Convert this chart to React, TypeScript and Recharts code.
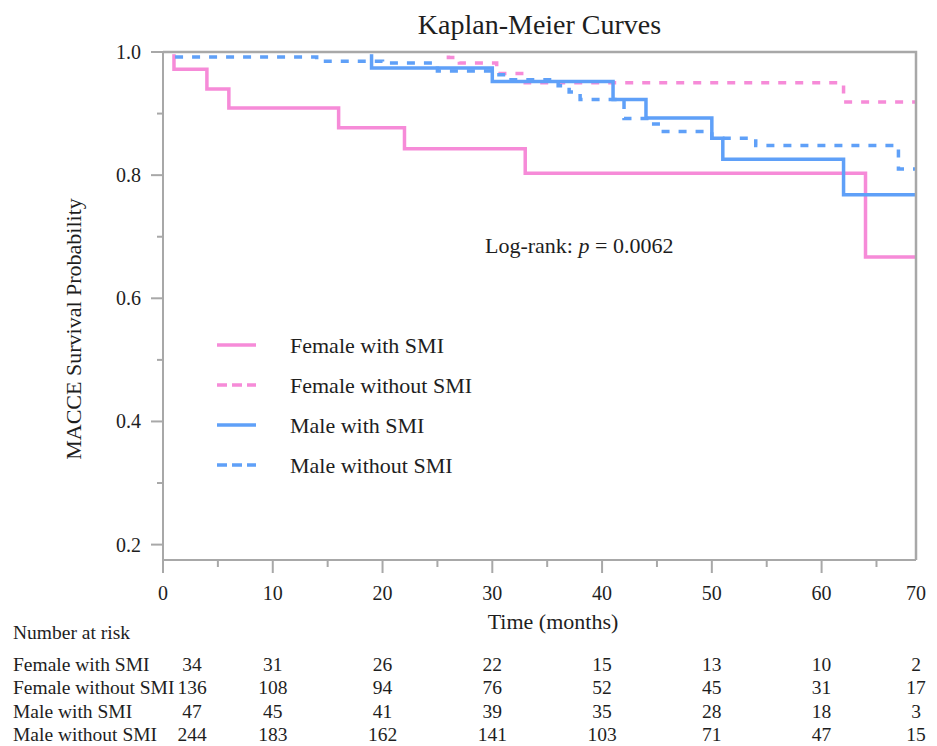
import React from 'react'
import { LineChart, Line, XAxis, YAxis } from 'recharts'

// survival steps (time in months, survival probability)
const femaleSmiT = [0, 1, 4, 6, 16, 22, 33, 64, 68.6]
const femaleSmiS = [1, 0.972, 0.94, 0.909, 0.877, 0.843, 0.803, 0.667, 0.667]

const femaleNoSmiT = [0, 26, 27, 30.4, 33, 62, 68.6]
const femaleNoSmiS = [1, 0.991, 0.982, 0.965, 0.95, 0.919, 0.919]

const maleSmiT = [0, 19, 30, 41, 44, 50, 51, 62, 68.6]
const maleSmiS = [1, 0.974, 0.952, 0.923, 0.893, 0.86, 0.826, 0.768, 0.768]

const maleNoSmiT = [0, 1, 14, 20, 25, 30, 31.3, 36, 37, 38, 42, 44.4, 45.3, 50, 54, 67, 68.6]
const maleNoSmiS = [1, 0.992, 0.985, 0.982, 0.969, 0.963, 0.955, 0.945, 0.935, 0.923, 0.892, 0.883, 0.871, 0.86, 0.848, 0.81, 0.81]

const seriesNames = ['Female with SMI', 'Female without SMI', 'Male with SMI', 'Male without SMI']

// number at risk
const riskTimes = [0, 10, 20, 30, 40, 50, 60, 70]
const riskFemaleSmi = [34, 31, 26, 22, 15, 13, 10, 2]
const riskFemaleNoSmi = [136, 108, 94, 76, 52, 45, 31, 17]
const riskMaleSmi = [47, 45, 41, 39, 35, 28, 18, 3]
const riskMaleNoSmi = [244, 183, 162, 141, 103, 71, 47, 15]

const xTicks = [0, 5, 10, 15, 20, 25, 30, 35, 40, 45, 50, 55, 60, 65, 68.6]
const yTicks = [0.2, 0.3, 0.4, 0.5, 0.6, 0.7, 0.8, 0.9, 1.0]

const X_MAX = 68.6
const Y_MIN = 0.175

const PINK = '#f68bd8'
const BLUE = '#5fa0f8'
const GRAY = '#a8a8a8'
const TEXT = '#1e1e1e'
const FONT = '"Liberation Serif", "Times New Roman", serif'

const W = 937
const H = 746
const PLOT_LEFT = 163
const PLOT_RIGHT = 916
const PLOT_TOP = 52
const PLOT_BOTTOM = 560

const toPoints = (t: number[], s: number[]) => t.map((v, i) => ({ t: v, s: s[i] }))

const series = [
  { name: seriesNames[0], data: toPoints(femaleSmiT, femaleSmiS), color: PINK, dash: undefined },
  { name: seriesNames[1], data: toPoints(femaleNoSmiT, femaleNoSmiS), color: PINK, dash: '8 9' },
  { name: seriesNames[2], data: toPoints(maleSmiT, maleSmiS), color: BLUE, dash: undefined },
  { name: seriesNames[3], data: toPoints(maleNoSmiT, maleNoSmiS), color: BLUE, dash: '8 9' }
]

const riskRows = [riskFemaleSmi, riskFemaleNoSmi, riskMaleSmi, riskMaleNoSmi]

const XTick = ({ x, y, payload }: any) => {
  const v = payload.value
  const isEnd = v === X_MAX
  const major = !isEnd && v % 10 === 0
  const label = isEnd ? '70' : major ? String(v) : ''
  return (
    <g>
      {!isEnd && (
        <line x1={x} x2={x} y1={y} y2={y + (major ? 13 : 7)} stroke={GRAY} strokeWidth={2} />
      )}
      {label && (
        <text x={x} y={y + 33} textAnchor="middle" fontSize={20} fontFamily={FONT} fill={TEXT} dominantBaseline="central">
          {label}
        </text>
      )}
    </g>
  )
}

const YTick = ({ x, y, payload }: any) => {
  const v = payload.value
  const major = Math.round(v * 10) % 2 === 0
  return (
    <g>
      <line x1={x - (major ? 12 : 6)} x2={x} y1={y} y2={y} stroke={GRAY} strokeWidth={2} />
      {major && (
        <text x={x - 22} y={y} textAnchor="end" fontSize={20} fontFamily={FONT} fill={TEXT} dominantBaseline="central">
          {v.toFixed(1)}
        </text>
      )}
    </g>
  )
}

const riskX = (t: number, col: number) => {
  const tt = Math.min(t, X_MAX)
  const px = PLOT_LEFT + (tt / X_MAX) * (PLOT_RIGHT - PLOT_LEFT)
  return col === 0 ? px + 29 : px
}

export default function App() {
  return (
    <div style={{ position: 'absolute', left: 0, top: 0, width: W, height: H, background: '#fff' }}>
      <LineChart
        width={W}
        height={H}
        margin={{ top: PLOT_TOP, right: W - PLOT_RIGHT, left: PLOT_LEFT - 60, bottom: H - PLOT_BOTTOM - 40 }}
      >
        <XAxis
          dataKey="t"
          type="number"
          domain={[0, X_MAX]}
          ticks={xTicks}
          interval={0}
          height={40}
          tickSize={0}
          tickMargin={0}
          tickLine={false}
          axisLine={{ stroke: GRAY, strokeWidth: 2 }}
          tick={<XTick />}
        />
        <YAxis
          type="number"
          domain={[Y_MIN, 1]}
          allowDataOverflow
          ticks={yTicks}
          interval={0}
          width={60}
          tickSize={0}
          tickMargin={0}
          tickLine={false}
          axisLine={{ stroke: GRAY, strokeWidth: 2 }}
          tick={<YTick />}
        />
        {series.map((s) => (
          <Line
            key={s.name}
            data={s.data}
            dataKey="s"
            name={s.name}
            type="stepAfter"
            stroke={s.color}
            strokeWidth={3.5}
            strokeDasharray={s.dash}
            dot={false}
            activeDot={false}
            isAnimationActive={false}
          />
        ))}
      </LineChart>

      <svg
        width={W}
        height={H}
        style={{ position: 'absolute', left: 0, top: 0, pointerEvents: 'none' }}
        fontFamily={FONT}
        fill={TEXT}
      >
        {/* top and right frame, drawn over the curves like in the original */}
        <rect x={PLOT_LEFT + 1} y={PLOT_TOP} width={PLOT_RIGHT - PLOT_LEFT - 2} height={2.2} fill="#fff" />
        <polyline
          points={`${PLOT_LEFT},${PLOT_TOP} ${PLOT_RIGHT},${PLOT_TOP} ${PLOT_RIGHT},${PLOT_BOTTOM}`}
          fill="none"
          stroke={GRAY}
          strokeWidth={2.5}
        />
        <text x={(PLOT_LEFT + PLOT_RIGHT) / 2} y={24} textAnchor="middle" dominantBaseline="central" fontSize={28}>
          Kaplan-Meier Curves
        </text>
        <text
          x={73}
          y={329}
          textAnchor="middle"
          dominantBaseline="central"
          fontSize={22}
          transform="rotate(-90 73 329)"
        >
          MACCE Survival Probability
        </text>
        <text x={553} y={621} textAnchor="middle" dominantBaseline="central" fontSize={22}>
          Time (months)
        </text>
        <text x={485} y={245} dominantBaseline="central" fontSize={22}>
          Log-rank: <tspan fontStyle="italic">p</tspan> = 0.0062
        </text>

        {series.map((s, i) => {
          const cy = 345 + i * 40
          return (
            <g key={s.name}>
              <line
                x1={217}
                x2={256}
                y1={cy}
                y2={cy}
                stroke={s.color}
                strokeWidth={3.5}
                strokeDasharray={s.dash ? '10 5' : undefined}
              />
              <text x={290} y={cy} dominantBaseline="central" fontSize={22}>
                {s.name}
              </text>
            </g>
          )
        })}

        <text x={13} y={632} dominantBaseline="central" fontSize={19.5}>
          Number at risk
        </text>
        {riskRows.map((row, r) => {
          const cy = 664 + r * 23.6
          return (
            <g key={r}>
              <text x={13} y={cy} dominantBaseline="central" fontSize={19.5}>
                {seriesNames[r]}
              </text>
              {row.map((n, c) => (
                <text key={c} x={riskX(riskTimes[c], c)} y={cy} textAnchor="middle" dominantBaseline="central" fontSize={19.5}>
                  {n}
                </text>
              ))}
            </g>
          )
        })}
      </svg>
    </div>
  )
}
